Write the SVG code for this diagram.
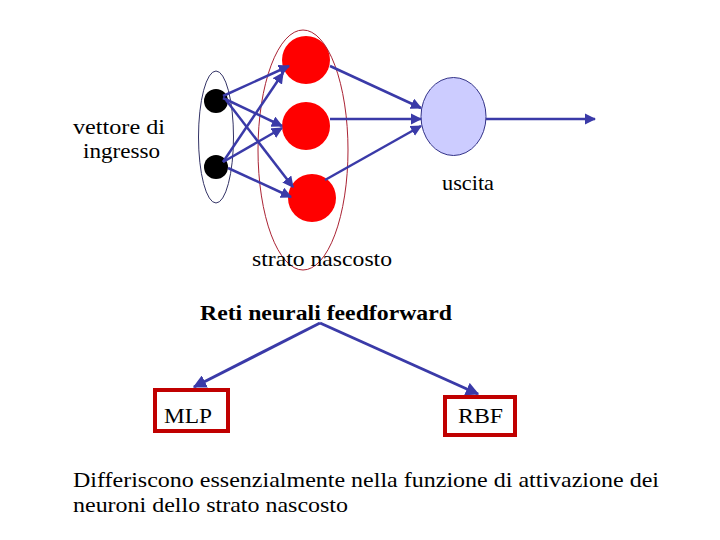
<svg xmlns="http://www.w3.org/2000/svg" width="720" height="540" viewBox="0 0 720 540">
<defs>
<marker id="ah" viewBox="0 0 10 10" refX="9" refY="5" markerWidth="4.5" markerHeight="4.5" orient="auto" markerUnits="strokeWidth">
<path d="M0,0 L10,5 L0,10 z" fill="#3a3aa8"/>
</marker>
</defs>
<style>
.c{stroke:#3a3aa8;stroke-width:2.5;fill:none;marker-end:url(#ah)}
.in{fill:#000}
.hid{fill:#ff0000}
.box{fill:none;stroke:#c00000;stroke-width:4}
</style>
<rect width="720" height="540" fill="#fff"/>
<g id="input-group">
<ellipse cx="216" cy="137" rx="17.5" ry="66" fill="none" stroke="#333366" stroke-width="1"/>
</g>
<g id="in1"><circle class="in" cx="216" cy="101" r="12"/></g>
<g id="in2"><circle class="in" cx="216" cy="167" r="12"/></g>
<g id="h1"><circle class="hid" cx="306" cy="60" r="24"/></g>
<g id="h2"><circle class="hid" cx="306" cy="126" r="24"/></g>
<g id="h3"><circle class="hid" cx="312" cy="198" r="24"/></g>
<g id="hidden-group">
<ellipse cx="303" cy="150" rx="45" ry="120" fill="none" stroke="#aa2233" stroke-width="1"/>
</g>
<g id="out"><ellipse cx="453.5" cy="116.5" rx="32.5" ry="39" fill="#ccccff" stroke="#333388" stroke-width="1"/></g>
<g id="connectors">
<line class="c" x1="223" y1="96" x2="289" y2="66"/>
<line class="c" x1="223" y1="98" x2="282" y2="126"/>
<line class="c" x1="226" y1="100" x2="293" y2="187"/>
<line class="c" x1="223" y1="162" x2="283" y2="73"/>
<line class="c" x1="223" y1="162" x2="282" y2="128"/>
<line class="c" x1="228" y1="168" x2="291" y2="197"/>
<line class="c" x1="330" y1="66" x2="421" y2="108"/>
<line class="c" x1="330" y1="119" x2="421" y2="119"/>
<line class="c" x1="325" y1="180" x2="421" y2="126"/>
<line class="c" x1="486" y1="119" x2="595" y2="119"/>
<line class="c" x1="320" y1="323" x2="194" y2="387" style="stroke-width:3"/>
<line class="c" x1="320" y1="323" x2="478" y2="394" style="stroke-width:3"/>
</g>
<g font-family="'Liberation Serif', 'Times New Roman', serif" font-size="21.5" fill="#000">
<g id="labels">
<text x="73" y="134" textLength="92" lengthAdjust="spacingAndGlyphs">vettore di</text>
<text x="83" y="158" textLength="77" lengthAdjust="spacingAndGlyphs">ingresso</text>
<text x="442" y="190" textLength="52" lengthAdjust="spacingAndGlyphs">uscita</text>
<text x="252" y="266" textLength="140" lengthAdjust="spacingAndGlyphs">strato nascosto</text>
<text x="200" y="320" font-weight="bold" textLength="252" lengthAdjust="spacingAndGlyphs">Reti neurali feedforward</text>
</g>
<g id="mlp"><rect class="box" x="155" y="390" width="73" height="41"/><text x="164" y="423" textLength="48" lengthAdjust="spacingAndGlyphs">MLP</text></g>
<g id="rbf"><rect class="box" x="445" y="397" width="70" height="38"/><text x="458" y="423" textLength="45" lengthAdjust="spacingAndGlyphs">RBF</text></g>
<g id="note" font-size="22">
<text x="73" y="487" textLength="586" lengthAdjust="spacingAndGlyphs">Differiscono essenzialmente nella funzione di attivazione dei</text>
<text x="73" y="512" textLength="275" lengthAdjust="spacingAndGlyphs">neuroni dello strato nascosto</text>
</g>
</g>
</svg>
